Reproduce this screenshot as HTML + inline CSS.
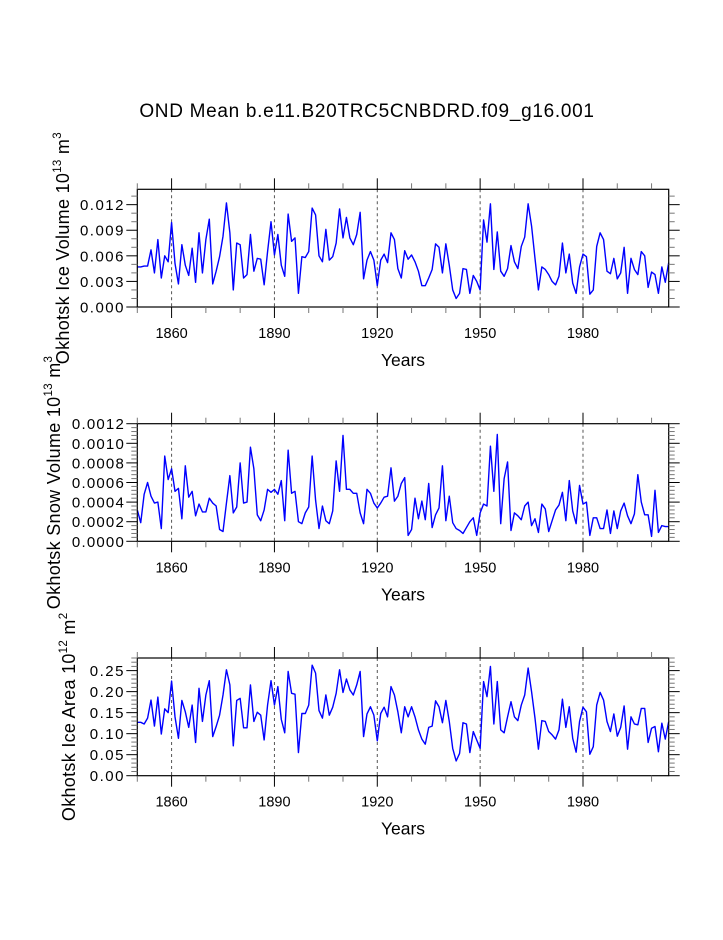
<!DOCTYPE html>
<html><head><meta charset="utf-8"><style>
html,body{margin:0;padding:0;background:#fff}
svg text{font-family:"Liberation Sans",Arial,sans-serif;fill:#000}
</style></head><body>
<svg id="chart" width="723" height="935" viewBox="0 0 723 935" xmlns="http://www.w3.org/2000/svg">
<text x="367" y="117" font-size="19" letter-spacing="0.7" text-anchor="middle">OND Mean b.e11.B20TRC5CNBDRD.f09_g16.001</text>
</svg>
<script>
const years0 = 1850;
const iceVolume = [4.7,4.7,4.8,4.8,6.7,4.0,7.9,3.4,6.0,5.3,9.9,5.1,2.7,7.3,4.9,3.7,6.9,2.9,8.7,4.0,7.9,10.3,2.7,4.2,5.9,8.3,12.2,8.7,2.0,7.5,7.3,3.4,3.8,8.5,4.2,5.7,5.6,2.6,6.5,10.0,6.1,8.5,4.9,3.6,10.9,7.7,8.1,1.6,5.9,5.8,6.5,11.6,10.8,6.0,5.3,9.1,5.5,5.9,7.5,11.5,8.1,10.5,8.1,7.3,8.5,11.1,3.3,5.5,6.5,5.5,2.5,5.5,6.2,5.2,8.7,7.9,4.5,3.4,6.6,5.6,6.1,5.3,4.2,2.5,2.5,3.4,4.4,7.4,7.0,4.0,7.4,4.9,2.0,1.0,1.6,4.5,4.4,1.6,3.7,3.0,2.0,10.2,7.6,12.1,4.4,8.8,4.2,3.6,4.5,7.2,5.3,4.5,7.1,8.2,12.1,9.5,5.7,2.0,4.7,4.4,3.8,3.0,2.6,3.6,7.5,4.0,6.2,2.8,1.6,4.7,6.2,5.9,1.5,2.0,7.1,8.7,7.9,4.2,3.9,5.7,3.3,4.0,7.0,1.6,5.7,4.4,3.8,6.5,6.0,2.3,4.1,3.8,1.6,4.7,2.9,5.2];
const snowVolume = [3.2,1.9,4.8,6.0,4.6,3.9,4.0,1.3,8.7,6.3,7.4,5.1,5.4,2.3,7.7,4.5,5.1,2.6,3.8,3.0,3.0,4.4,3.9,3.6,1.2,1.0,3.9,6.7,2.9,3.5,8.0,3.9,4.0,9.6,7.4,2.7,2.1,3.2,5.3,5.0,5.3,4.8,6.2,2.1,9.3,4.9,5.1,2.0,1.8,2.9,3.5,8.7,4.2,1.3,3.6,2.1,1.8,3.1,8.2,5.1,10.8,5.3,5.3,4.9,4.9,2.9,1.8,5.3,4.9,3.9,3.4,3.9,4.5,4.6,7.5,4.1,4.6,5.9,6.5,0.6,1.2,4.4,2.3,4.1,2.2,5.9,1.4,2.7,3.4,7.7,2.1,4.6,1.9,1.3,1.1,0.8,1.4,2.0,2.4,0.6,2.9,3.8,3.6,9.7,5.1,10.9,1.8,6.4,8.1,1.1,2.9,2.6,2.2,3.6,4.0,1.6,2.3,0.9,3.8,3.3,1.0,2.1,3.2,3.7,5.0,2.1,6.2,3.1,1.8,5.7,3.8,4.0,0.6,2.4,2.4,1.3,1.3,3.2,0.8,3.1,1.3,3.1,3.9,2.6,1.8,2.8,6.8,4.0,2.7,2.7,0.5,5.2,0.9,1.6,1.5,1.5];
const iceArea = [12.7,12.7,12.3,13.7,18.0,11.8,18.7,9.9,15.9,15.0,22.5,14.0,8.9,17.9,15.2,11.5,16.8,7.9,20.8,12.9,19.2,22.6,9.3,11.7,14.4,19.2,25.2,21.6,7.1,17.9,18.4,11.4,11.4,21.6,12.9,15.1,14.4,8.5,16.8,22.6,16.8,21.2,13.4,10.2,24.8,19.6,19.4,5.5,14.8,14.8,16.8,26.3,24.4,15.5,13.7,19.2,14.4,16.3,19.6,25.2,19.8,23.0,20.4,19.2,21.6,24.8,9.3,14.7,16.4,14.4,8.3,14.8,16.3,14.0,21.2,19.2,15.2,10.2,16.4,14.0,16.4,14.0,10.9,8.7,7.5,11.5,11.8,17.8,16.4,12.6,17.9,12.9,6.5,3.5,5.3,12.6,12.3,5.5,10.5,8.5,6.5,22.4,18.8,26.0,12.3,22.4,10.9,10.2,14.0,17.6,14.0,13.1,16.8,19.2,25.6,20.0,13.7,6.3,13.1,12.9,10.5,9.7,8.7,10.9,18.2,11.5,16.4,8.9,5.6,12.9,16.3,15.2,5.1,6.9,16.8,19.8,18.0,12.9,10.5,14.7,9.4,11.5,16.6,6.3,14.0,12.3,12.1,16.0,16.0,7.9,11.3,11.7,5.7,12.5,8.7,12.9];
const xTickLabels = ["1860","1890","1920","1950","1980"];
const p1Ticks = ["0.000","0.003","0.006","0.009","0.012"];
const p2Ticks = ["0.0000","0.0002","0.0004","0.0006","0.0008","0.0010","0.0012"];
const p3Ticks = ["0.00","0.05","0.10","0.15","0.20","0.25"];

const NS="http://www.w3.org/2000/svg";
const svg=document.getElementById('chart');
function mk(tag,attrs,parent){const e=document.createElementNS(NS,tag);for(const k in attrs)e.setAttribute(k,attrs[k]);(parent||svg).appendChild(e);return e;}
const X0=137.3,X1=668.7,Y2005=2005;
function xs(yr){return X0+(yr-years0)*(X1-X0)/(Y2005-years0);}

function panel(name,top,bot,vals,scale,ymax,majorStep,minorStep,ticks,title1,sup1,title2,sup2,titleX,lblSpacing){
  const g=mk('g',{});
  
  
  const ys=v=>bot-(v/ymax)*(bot-top);
  xTickLabels.forEach(t=>{
    const l=mk('line',{x1:xs(+t),x2:xs(+t),y1:top,y2:bot,stroke:'#555','stroke-width':1,'stroke-dasharray':'3,3'},g);
    
    
  });
  const pts=vals.map((v,i)=>xs(years0+i).toFixed(2)+','+ys(v*scale).toFixed(2)).join(' ');
  const pl=mk('polyline',{points:pts,fill:'none',stroke:'#0000ff','stroke-width':1.4,'stroke-linejoin':'round'},g);
  
  
  const fr=mk('rect',{x:X0,y:top,width:X1-X0,height:bot-top,fill:'none',stroke:'#000','stroke-width':1.2},g);
  
  
  for(let yr=1850;yr<=2000;yr+=10){
    const maj=(yr-1860)%30===0;const L=maj?11:6;
    mk('line',{x1:xs(yr),x2:xs(yr),y1:bot,y2:bot+L,stroke:maj?'#000':'#777','stroke-width':1},g);
    mk('line',{x1:xs(yr),x2:xs(yr),y1:top,y2:top-L,stroke:maj?'#000':'#777','stroke-width':1},g);
  }
  xTickLabels.forEach(t=>{
    const tx=mk('text',{x:xs(+t),y:bot+31,'font-size':14.5,'text-anchor':'middle'},g);
    tx.textContent=t;
    
    
  });
  const nmin=Math.floor(ymax/minorStep+1e-6);
  for(let i=0;i<=nmin;i++){
    const v=i*minorStep;const yy=ys(v);
    const maj=Math.abs(v/majorStep-Math.round(v/majorStep))<1e-6;const L=maj?11:6;
    mk('line',{x1:X0-L,x2:X0,y1:yy,y2:yy,stroke:maj?'#000':'#777','stroke-width':1},g);
    mk('line',{x1:X1,x2:X1+L,y1:yy,y2:yy,stroke:maj?'#000':'#777','stroke-width':1},g);
  }
  ticks.forEach((t,i)=>{
    const tx=mk('text',{x:125,y:ys(i*majorStep)+5.5,'font-size':15,'text-anchor':'end','letter-spacing':lblSpacing},g);
    tx.textContent=t;
    
    
  });
  const xt=mk('text',{x:403,y:bot+59,'font-size':17.5,'text-anchor':'middle'},g);
  xt.textContent='Years';
  
  
  const cy=(top+bot)/2;
  const yt=mk('text',{x:0,y:0,'font-size':18,'letter-spacing':0.3,'text-anchor':'middle',transform:'translate('+(titleX+6)+','+cy+') rotate(-90)'},g);
  
  
  const a=mk('tspan',{},yt);a.textContent=title1;
  const b=mk('tspan',{'font-size':11.5,dy:-8},yt);b.textContent=sup1;
  const c=mk('tspan',{dy:8},yt);c.textContent=title2;
  const d=mk('tspan',{'font-size':11.5,dy:-8},yt);d.textContent=sup2;
}
panel('ice-volume',189.3,307,iceVolume,0.001,0.0138,0.003,0.001,p1Ticks,'Okhotsk Ice Volume 10','13',' m','3',63,1.5);
panel('snow-volume',423.7,541.3,snowVolume,0.0001,0.0012,0.0002,0.00004,p2Ticks,'Okhotsk Snow Volume 10','13',' m','3',54,1.2);
panel('ice-area',658,775.7,iceArea,0.01,0.28,0.05,0.01,p3Ticks,'Okhotsk Ice Area 10','12',' m','2',69,1.5);
</script>
</body></html>
